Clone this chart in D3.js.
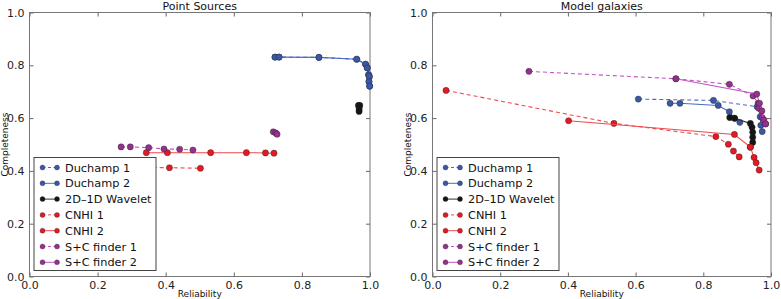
<!DOCTYPE html>
<html><head><meta charset="utf-8">
<script src="https://cdn.jsdelivr.net/npm/d3@7"></script>
<style>body{margin:0;background:#fff}svg{display:block;font-family:"DejaVu Sans",sans-serif}</style>
</head><body><svg id="c" width="781" height="299"></svg>
<script>
const seriesNames = ["Duchamp 1","Duchamp 2","2D\u20131D Wavelet","CNHI 1","CNHI 2","S+C finder 1","S+C finder 2"];
const panelTitles = ["Point Sources","Model galaxies"];
const tickValues = [0,0.2,0.4,0.6,0.8,1.0];
// [reliability, completeness]
const psDuchamp1 = [[0.721,0.831],[0.733,0.831],[0.850,0.830],[0.961,0.823],[0.987,0.804],[0.992,0.790],[0.996,0.764],[0.998,0.757],[0.997,0.738],[0.999,0.721]];
const psDuchamp2 = [[0.721,0.831],[0.733,0.831],[0.850,0.830],[0.961,0.823],[0.987,0.804],[0.992,0.790],[0.996,0.764],[0.998,0.757],[0.997,0.738],[0.999,0.721]];
const psWavelet = [[0.966,0.648],[0.970,0.648],[0.968,0.640],[0.968,0.632],[0.968,0.625]];
const psCNHI1 = [[0.300,0.414],[0.411,0.412],[0.502,0.410]];
const psCNHI2 = [[0.343,0.469],[0.405,0.469],[0.532,0.469],[0.637,0.469],[0.693,0.468],[0.718,0.467]];
const psSC1 = [[0.269,0.491],[0.296,0.491],[0.350,0.488],[0.395,0.483],[0.441,0.482],[0.480,0.479]];
const psSC2 = [[0.716,0.548],[0.723,0.544],[0.727,0.539]];
const mgDuchamp1 = [[0.608,0.672],[0.830,0.667],[0.959,0.643],[0.968,0.605],[0.970,0.573],[0.974,0.549]];
const mgDuchamp2 = [[0.702,0.656],[0.731,0.656],[0.844,0.648],[0.877,0.624],[0.891,0.600],[0.908,0.584]];
const mgWavelet = [[0.878,0.602],[0.893,0.599],[0.939,0.580],[0.944,0.565],[0.946,0.546],[0.946,0.527],[0.946,0.508],[0.939,0.490]];
const mgCNHI1 = [[0.040,0.705],[0.536,0.580],[0.837,0.530],[0.874,0.501],[0.889,0.475],[0.906,0.453]];
const mgCNHI2 = [[0.402,0.590],[0.892,0.538],[0.939,0.490],[0.950,0.451],[0.956,0.431],[0.965,0.403]];
const mgSC1 = [[0.285,0.777],[0.719,0.749],[0.877,0.728],[0.947,0.684],[0.962,0.656],[0.964,0.637],[0.974,0.602],[0.984,0.578]];
const mgSC2 = [[0.719,0.749],[0.958,0.691],[0.966,0.656],[0.973,0.627],[0.979,0.593],[0.984,0.578]];

const styles = [
  {fill:"#3a58a8", line:"#4a6cc0", dash:"4,3"},
  {fill:"#3a58a8", line:"#4a6cc0", dash:null},
  {fill:"#151515", line:"#333333", dash:null},
  {fill:"#e31a22", line:"#f0484e", dash:"4,3"},
  {fill:"#e31a22", line:"#f0484e", dash:null},
  {fill:"#96308f", line:"#c256c0", dash:"4,3"},
  {fill:"#96308f", line:"#c256c0", dash:null}
];

const panels = [
  {x0:29.5, x1:370, title:panelTitles[0], data:[psDuchamp1,psDuchamp2,psWavelet,psCNHI1,psCNHI2,psSC1,psSC2], ylabX:8},
  {x0:432.5, x1:771, title:panelTitles[1], data:[mgDuchamp1,mgDuchamp2,mgWavelet,mgCNHI1,mgCNHI2,mgSC1,mgSC2], ylabX:410.5}
];
const yTop = 12.5, yBot = 276.5;
const svg = d3.select("#c");

panels.forEach(p => {
  const x = d3.scaleLinear().domain([0,1]).range([p.x0,p.x1]);
  const y = d3.scaleLinear().domain([0,1]).range([yBot,yTop]);
  const g = svg.append("g");
  const fmt = d3.format(".1f");
  const ax = g.append("g").attr("transform",`translate(0,${yBot})`)
    .call(d3.axisBottom(x).tickValues(tickValues).tickFormat(fmt).tickSizeInner(-4).tickSizeOuter(0).tickPadding(5));
  const ay = g.append("g").attr("transform",`translate(${p.x0},0)`)
    .call(d3.axisLeft(y).tickValues(tickValues).tickFormat(fmt).tickSizeInner(-4).tickSizeOuter(0).tickPadding(5));
  const axt = g.append("g").attr("transform",`translate(0,${yTop})`)
    .call(d3.axisTop(x).tickValues(tickValues).tickFormat("").tickSizeInner(-4).tickSizeOuter(0));
  const ayr = g.append("g").attr("transform",`translate(${p.x1},0)`)
    .call(d3.axisRight(y).tickValues(tickValues).tickFormat("").tickSizeInner(-4).tickSizeOuter(0));
  [ax,ay,axt,ayr].forEach(a=>{a.select(".domain").remove(); a.selectAll("line").attr("stroke","#666");
    a.selectAll("text").attr("font-size",11).attr("fill","#222").attr("font-family","DejaVu Sans");});
  ax.selectAll("text").attr("dy","0.71em");
  g.append("rect").attr("x",p.x0).attr("y",yTop).attr("width",p.x1-p.x0).attr("height",yBot-yTop)
    .attr("fill","none").attr("stroke","#777").attr("stroke-width",1);
  g.append("text").attr("x",(p.x0+p.x1)/2).attr("y",9.5).attr("text-anchor","middle").attr("font-size",11).attr("fill","#111").text(p.title);
  g.append("text").attr("x",(p.x0+p.x1)/2).attr("y",297).attr("text-anchor","middle").attr("font-size",9).attr("fill","#111").text("Reliability");
  g.append("text").attr("transform",`translate(${p.ylabX},${(yTop+yBot)/2}) rotate(-90)`).attr("text-anchor","middle").attr("font-size",9).attr("fill","#111").text("Completeness");
  const line = d3.line().x(d=>x(d[0])).y(d=>y(d[1]));
  p.data.forEach((s,i)=>{
    const st = styles[i];
    const sg = g.append("g");
    sg.append("path").attr("d",line(s)).attr("fill","none").attr("stroke",st.line).attr("stroke-width",1.1)
      .attr("stroke-dasharray",st.dash);
    sg.selectAll("circle").data(s).join("circle").attr("cx",d=>x(d[0])).attr("cy",d=>y(d[1])).attr("r",3.1)
      .attr("fill",st.fill).attr("stroke","#222").attr("stroke-width",0.4);
  });
  const lx = p.x0 + 4.5, ly = 157.5, lw = 122, lh = 113;
  const lg = g.append("g");
  lg.append("rect").attr("x",lx).attr("y",ly).attr("width",lw).attr("height",lh).attr("fill","#fff").attr("stroke","#444").attr("stroke-width",1);
  seriesNames.forEach((n,i)=>{
    const st = styles[i];
    const cy = ly + 10 + i*15.8;
    lg.append("line").attr("x1",lx+8.5).attr("x2",lx+23).attr("y1",cy).attr("y2",cy).attr("stroke",st.line).attr("stroke-width",1).attr("stroke-dasharray",st.dash?"3,2.5":null);
    [lx+8.5,lx+23].forEach(cx=>lg.append("circle").attr("cx",cx).attr("cy",cy).attr("r",2.5).attr("fill",st.fill).attr("stroke","#222").attr("stroke-width",0.3));
    lg.append("text").attr("x",lx+31).attr("y",cy+4).attr("font-size",11.3).attr("fill","#111").text(n);
  });
});
</script></body></html>
